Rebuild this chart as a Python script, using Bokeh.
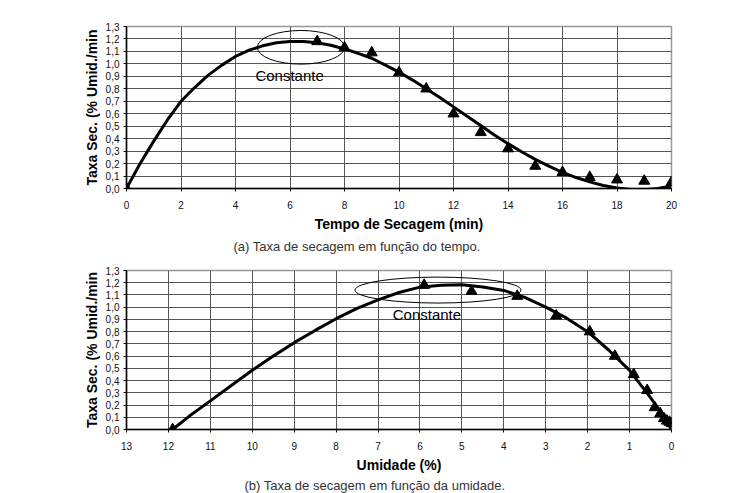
from bokeh.plotting import figure
from bokeh.layouts import column
from bokeh.models import Range1d, FixedTicker, CustomJSTickFormatter, Label, Title
from bokeh.embed import file_html
from bokeh.resources import INLINE

# ---- data (a): drying rate vs time ----
time_pts = [0, 7, 8, 9, 10, 11, 12, 13, 14, 15, 16, 17, 18, 19, 20]
rate_pts_a = [0.0, 1.18, 1.13, 1.09, 0.93, 0.80, 0.60, 0.45, 0.32, 0.18, 0.13, 0.09, 0.07, 0.06, 0.05]
time_curve = [0, 0.5, 1, 1.5, 2, 2.5, 3, 3.5, 4, 4.5, 5, 5.5, 6, 6.5, 7, 7.5, 8, 8.5, 9, 9.5,
              10, 10.5, 11, 11.5, 12, 12.5, 13, 13.5, 14, 14.5, 15, 15.5, 16, 16.5, 17, 17.5,
              18, 18.5, 19, 19.5, 20]
rate_curve_a = [0.0, 0.20, 0.38, 0.55, 0.70, 0.81, 0.91, 0.99, 1.06, 1.11, 1.145, 1.17, 1.18,
                1.18, 1.17, 1.15, 1.12, 1.085, 1.045, 0.99, 0.934, 0.87, 0.80, 0.73, 0.655,
                0.58, 0.505, 0.43, 0.36, 0.295, 0.234, 0.18, 0.13, 0.088, 0.053, 0.024, 0.005,
                -0.008, -0.01, 0.0, 0.02]
xticks_a = [0, 2, 4, 6, 8, 10, 12, 14, 16, 18, 20]

# ---- data (b): drying rate vs moisture ----
moist_pts = [11.9, 5.90, 4.77, 3.68, 2.75, 1.95, 1.35, 0.90, 0.58, 0.40, 0.27, 0.18, 0.11, 0.05, 0.0]
rate_pts_b = [0.0, 1.18, 1.13, 1.09, 0.93, 0.80, 0.60, 0.45, 0.32, 0.18, 0.13, 0.09, 0.07, 0.06, 0.05]
moist_curve = [11.9, 11.5, 11, 10.5, 10, 9.5, 9, 8.5, 8, 7.5, 7, 6.5, 6, 5.5, 5, 4.5, 4, 3.5,
               3, 2.5, 2, 1.5, 1, 0.5, 0.25, 0]
rate_curve_b = [0.0, 0.11, 0.234, 0.36, 0.484, 0.60, 0.71, 0.81, 0.906, 0.99, 1.06, 1.12, 1.164,
                1.18, 1.183, 1.165, 1.137, 1.08, 1.00, 0.91, 0.80, 0.65, 0.484, 0.26, 0.14, 0.0]
xticks_b = [13, 12, 11, 10, 9, 8, 7, 6, 5, 4, 3, 2, 1, 0]

yticks = [0.0, 0.1, 0.2, 0.3, 0.4, 0.5, 0.6, 0.7, 0.8, 0.9, 1.0, 1.1, 1.2, 1.3]

FONT = "Liberation Sans"
ylab = "Taxa Sec. (% Umid./min"
caption_a = "(a) Taxa de secagem em função do tempo."
caption_b = "(b) Taxa de secagem em função da umidade."


def style(p, xticks, xlabel, caption, cap_offset, cap_standoff):
    p.xaxis.ticker = FixedTicker(ticks=xticks)
    p.yaxis.ticker = FixedTicker(ticks=yticks)
    p.yaxis.formatter = CustomJSTickFormatter(code="return tick.toFixed(1).replace('.', ',');")
    for ax in (p.xaxis[0], p.yaxis[0]):
        ax.major_label_text_font = FONT
        ax.major_label_text_font_size = "10px"
        ax.major_label_text_color = "#111111"
        ax.axis_label_text_font = FONT
        ax.axis_label_text_font_size = "14px"
        ax.axis_label_text_font_style = "bold"
        ax.axis_label_text_color = "#000000"
        ax.axis_line_color = "#000000"
        ax.axis_line_width = 1.5
        ax.major_tick_in = 0
        ax.major_tick_out = 3
        ax.major_tick_line_color = "#000000"
        ax.minor_tick_line_color = None
    p.xaxis.axis_label = xlabel
    p.yaxis.axis_label = ylab
    p.xaxis.major_label_standoff = 9
    p.xaxis.axis_label_standoff = 4
    p.yaxis.major_label_standoff = 4
    p.yaxis.axis_label_standoff = 3
    p.xgrid.grid_line_color = "#555555"
    p.ygrid.grid_line_color = "#555555"
    p.xgrid.grid_line_width = 1
    p.ygrid.grid_line_width = 1
    p.outline_line_color = "#999999"
    p.outline_line_width = 1.5
    p.background_fill_color = "white"
    p.border_fill_color = "white"
    p.add_layout(Title(text=caption, align="left", offset=cap_offset, text_font=FONT,
                       text_font_size="13px", text_font_style="normal",
                       text_color="#333333", standoff=cap_standoff), "below")


# ---- figure (a) ----
pa = figure(width=736, height=255, output_backend="svg", toolbar_location=None,
            x_range=Range1d(0, 20), y_range=Range1d(0, 1.3),
            min_border_left=125, min_border_right=65, min_border_top=26, min_border_bottom=64)
style(pa, xticks_a, "Tempo de Secagem (min)", caption_a, 107, 4)
pa.line(time_curve, rate_curve_a, line_color="black", line_width=3)
pa.scatter(time_pts, rate_pts_a, marker="triangle", size=11, color="black")
pa.ellipse(x=6.4, y=1.133, width=3.2, height=0.27, fill_color=None, line_color="black", line_width=1)
pa.add_layout(Label(x=4.73, y=0.909, text="Constante", text_font=FONT, text_font_size="15px",
                    text_baseline="middle", text_align="left", text_color="black"))

# ---- figure (b) ----
pb = figure(width=736, height=238, output_backend="svg", toolbar_location=None,
            x_range=Range1d(13, 0), y_range=Range1d(0, 1.3),
            min_border_left=126, min_border_right=63, min_border_top=15, min_border_bottom=56)
style(pb, xticks_b, "Umidade (%)", caption_b, 118, 1)
pb.line(moist_curve, rate_curve_b, line_color="black", line_width=3)
pb.scatter(moist_pts, rate_pts_b, marker="triangle", size=11, color="black")
pb.ellipse(x=5.57, y=1.14, width=3.96, height=0.212, fill_color=None, line_color="black", line_width=1)
pb.add_layout(Label(x=6.65, y=0.941, text="Constante", text_font=FONT, text_font_size="15px",
                    text_baseline="middle", text_align="left", text_color="black"))

layout = column(pa, pb, spacing=0)
open("out.html", "w").write(file_html(layout, INLINE))
